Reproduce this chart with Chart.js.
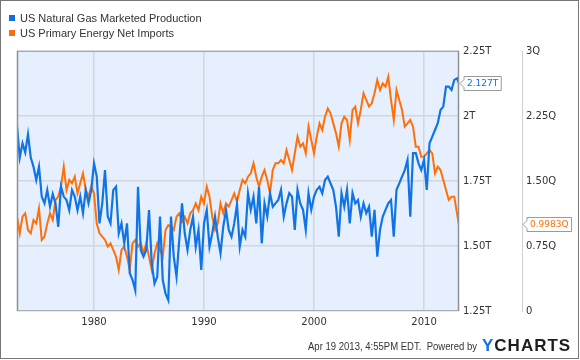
<!DOCTYPE html>
<html>
<head>
<meta charset="utf-8">
<script src="https://cdn.jsdelivr.net/npm/chart.js"></script>
<style>
body { margin: 0; background: #fff; }
#wrap { position: relative; width: 580px; height: 360px; font-family: "Liberation Sans", Arial, sans-serif; }
#frame { position: absolute; left: 0; top: 0; width: 579px; height: 359px; box-sizing: border-box; border: 1px solid #777; pointer-events: none; }
canvas { position: absolute; left: 0; top: 0; }
.leg { position: absolute; left: 20px; font-size: 11px; line-height: 15px; color: #333; white-space: nowrap; }
.sw { position: absolute; left: 9px; width: 6px; height: 6px; }
#stamp { position: absolute; left: 308px; top: 339px; font-size: 11px; line-height: 15px; color: #333; white-space: nowrap; transform-origin: 0 0; }
#logo { position: absolute; left: 482px; top: 337px; font-size: 17px; line-height: 17px; font-weight: bold; letter-spacing: 1px; color: #1d1d1d; white-space: nowrap; transform-origin: 0 0; }
#logo span { color: #1570e3; }
</style>
</head>
<body>
<div id="wrap">
	<canvas id="cnvs" width="580" height="360"></canvas>
	<div class="sw" style="top:15px;background:#0f6fe0"></div>
	<div class="leg" style="top:11px">US Natural Gas Marketed Production</div>
	<div class="sw" style="top:30px;background:#ff6a10"></div>
	<div class="leg" style="top:26px">US Primary Energy Net Imports</div>
	<div id="stamp">Apr 19 2013, 4:55PM EDT.&nbsp; Powered by</div>
	<div id="logo"><span>Y</span>CHARTS</div>
	<div id="frame"></div>
</div>
<script>
// quarterly readings, Jan 1973 .. Jan 2013, plus the last month shown
var quarters = [];
for (var i = 0; i < 161; i++) quarters.push(1973 + i / 4);
quarters.push(2013.17);

// US Natural Gas Marketed Production (trillion cu ft)
var gasProduction = [
	1.96, 1.84, 1.895, 1.86,
	1.93, 1.84, 1.805, 1.754,
	1.805, 1.69, 1.664, 1.715,
	1.651, 1.70, 1.664, 1.574,
	1.728, 1.69, 1.677, 1.638,
	1.715, 1.69, 1.638, 1.69,
	1.626, 1.715, 1.664, 1.715,
	1.818, 1.767, 1.587, 1.664,
	1.792, 1.613, 1.587, 1.715,
	1.728, 1.549, 1.587, 1.51,
	1.587, 1.395, 1.37, 1.33,
	1.728, 1.485, 1.459, 1.485,
	1.638, 1.433, 1.356, 1.382,
	1.613, 1.369, 1.318, 1.292,
	1.613, 1.459, 1.382, 1.523,
	1.664, 1.549, 1.485, 1.562,
	1.613, 1.497, 1.562, 1.408,
	1.587, 1.638, 1.497, 1.549,
	1.613, 1.536, 1.472, 1.574,
	1.638, 1.562, 1.536, 1.587,
	1.66, 1.498, 1.562, 1.536,
	1.703, 1.639, 1.69, 1.587,
	1.728, 1.51, 1.664, 1.613,
	1.703, 1.651, 1.664, 1.677,
	1.716, 1.613, 1.664, 1.703,
	1.69, 1.562, 1.716, 1.664,
	1.639, 1.562, 1.703, 1.639,
	1.69, 1.716, 1.728, 1.703,
	1.754, 1.767, 1.741, 1.716,
	1.651, 1.536, 1.703, 1.651,
	1.716, 1.587, 1.703, 1.664,
	1.677, 1.613, 1.664, 1.626,
	1.651, 1.536, 1.639, 1.459,
	1.562, 1.613, 1.639, 1.664,
	1.677, 1.536, 1.716, 1.741,
	1.767, 1.792, 1.831, 1.613,
	1.857, 1.857, 1.818, 1.792,
	1.831, 1.716, 1.895, 1.921,
	1.946, 1.972, 2.023, 2.036,
	2.113, 2.113, 2.10, 2.139,
	2.145, 2.127
];

// US Primary Energy Net Imports (quadrillion Btu)
var netImports = [
	1.088, 0.896, 1.088, 1.127,
	0.935, 0.896, 1.05, 1.01,
	1.185, 0.82, 0.858, 1.01,
	1.127, 1.05, 1.28, 1.32,
	1.435, 1.665, 1.396, 1.512,
	1.473, 1.55, 1.358, 1.473,
	1.588, 1.396, 1.32, 1.435,
	1.358, 1.01, 0.896, 0.858,
	0.82, 0.742, 0.78, 0.704,
	0.627, 0.473, 0.704, 0.742,
	0.627, 0.473, 0.78, 0.82,
	0.742, 0.78, 0.665, 0.78,
	0.627, 0.473, 0.665, 0.78,
	0.704, 0.627, 0.935, 0.99,
	0.973, 0.935, 1.088, 1.127,
	1.03, 1.088, 1.01, 1.127,
	1.165, 1.242, 1.165, 1.319,
	1.242, 1.435, 1.319, 1.088,
	0.935, 1.01, 1.242, 1.127,
	1.242, 1.204, 1.28, 1.358,
	1.26, 1.396, 1.512, 1.473,
	1.55, 1.588, 1.704, 1.55,
	1.435, 1.55, 1.627, 1.512,
	1.358, 1.627, 1.704, 1.704,
	1.742, 1.704, 1.858, 1.742,
	1.627, 1.819, 2.012, 1.896,
	1.935, 1.819, 2.127, 1.973,
	1.819, 2.012, 2.165, 2.088,
	2.242, 2.338, 2.281, 2.165,
	2.05, 1.896, 2.165, 2.242,
	2.204, 1.973, 2.319, 2.358,
	2.165, 2.319, 2.512, 2.435,
	2.358, 2.396, 2.512, 2.665,
	2.55, 2.627, 2.588, 2.704,
	2.435, 2.204, 2.55, 2.435,
	2.319, 2.127, 2.165, 2.204,
	2.127, 1.896, 1.896, 1.781,
	1.781, 1.819, 1.858, 1.819,
	1.588, 1.665, 1.627, 1.512,
	1.396, 1.281, 1.319, 1.319,
	1.127, 0.9983
];

var yearTicks = [1980, 1990, 2000, 2010];
var gasTicks = [1.25, 1.5, 1.75, 2, 2.25];
var importTicks = [0, 0.75, 1.5, 2.25, 3];

var BLUE = '#1174e6';
var ORANGE = '#ff700a';
var TICK_FONT = { family: 'DejaVu Sans', size: 10 };

function points(xs, ys)
{
	var rtn = [];
	ys.forEach(function(y, i) { rtn.push({ x: xs[i], y: y }); });
	return rtn;
}

function fmt(v, unit)
{
	if (v == 0) return '0';
	return (Number.isInteger(v) ? String(v) : v.toFixed(2)) + unit;
}

var plotBg = {
	id: 'plotBg',
	beforeDraw: function(chart) {
		var a = chart.chartArea, ctx = chart.ctx;
		ctx.save();
		ctx.fillStyle = '#e5effd';
		ctx.fillRect(a.left, a.top, a.right - a.left, a.bottom - a.top);
		ctx.restore();
	},
	afterDatasetsDraw: function(chart) {
		var a = chart.chartArea, ctx = chart.ctx;
		ctx.save();
		ctx.strokeStyle = '#a9abae';
		ctx.lineWidth = 1;
		ctx.strokeRect(a.left + 0.5, a.top + 0.5, a.right - a.left - 1, a.bottom - a.top - 1);
		ctx.strokeStyle = '#8e9094';
		ctx.lineWidth = 1.5;
		ctx.beginPath();
		ctx.moveTo(a.left + 0.5, a.top); ctx.lineTo(a.left + 0.5, a.bottom);
		ctx.moveTo(a.right - 0.5, a.top); ctx.lineTo(a.right - 0.5, a.bottom);
		ctx.stroke();
		ctx.restore();
	}
};

// last-value flags on the two right axes
var flags = {
	id: 'flags',
	afterDraw: function(chart) {
		var ctx = chart.ctx;
		var tips = [chart.chartArea.right, chart.scales.y2.left];
		var units = ['T', 'Q'];
		chart.data.datasets.forEach(function(ds, i) {
			var meta = chart.getDatasetMeta(i);
			var pt = meta.data[meta.data.length - 1];
			var text = ds.data[ds.data.length - 1].y + units[i];
			ctx.save();
			ctx.font = '9px "DejaVu Sans"';
			var w = ctx.measureText(text).width + 6;
			var tx = tips[i] + 1, bx = tips[i] + 5, cy = Math.round(pt.y) + 0.5;
			var top = cy - 7, bot = cy + 7;
			ctx.beginPath();
			ctx.moveTo(tx, cy);
			ctx.lineTo(bx, cy - 4);
			ctx.lineTo(bx, top);
			ctx.lineTo(bx + w, top);
			ctx.lineTo(bx + w, bot);
			ctx.lineTo(bx, bot);
			ctx.lineTo(bx, cy + 4);
			ctx.closePath();
			ctx.fillStyle = '#fff';
			ctx.fill();
			ctx.strokeStyle = '#9a9a9a';
			ctx.lineWidth = 1;
			ctx.stroke();
			ctx.fillStyle = ds.borderColor;
			ctx.textBaseline = 'middle';
			ctx.fillText(text, bx + 3, cy + 0.5);
			ctx.restore();
		});
	}
};

var chart = new Chart(document.getElementById('cnvs').getContext('2d'), {
	type: 'line',
	data: {
		datasets: [
			{
				label: 'US Natural Gas Marketed Production',
				data: points(quarters, gasProduction),
				borderColor: BLUE,
				borderWidth: 2.2,
				pointRadius: 0,
				tension: 0,
				yAxisID: 'y'
			},
			{
				label: 'US Primary Energy Net Imports',
				data: points(quarters, netImports),
				borderColor: ORANGE,
				borderWidth: 2,
				pointRadius: 0,
				tension: 0,
				yAxisID: 'y2'
			}
		]
	},
	options: {
		responsive: false,
		animation: false,
		devicePixelRatio: 1,
		layout: { padding: { left: 17, top: 51, right: 0, bottom: 29 } },
		plugins: { legend: { display: false }, tooltip: { enabled: false } },
		scales: {
			x: {
				type: 'linear',
				min: 1973,
				max: 2013.18,
				afterBuildTicks: function(s) { s.ticks = yearTicks.map(function(v) { return { value: v }; }); },
				afterFit: function(s) { s.height = 20; },
				grid: { color: '#d3d6db', lineWidth: 1.5, drawTicks: false },
				border: { display: false },
				ticks: { font: TICK_FONT, color: '#333', padding: 5, maxRotation: 0, callback: function(v) { return String(v); } }
			},
			y: {
				position: 'right',
				weight: 0,
				min: 1.25,
				max: 2.25,
				afterBuildTicks: function(s) { s.ticks = gasTicks.map(function(v) { return { value: v }; }); },
				afterFit: function(s) { s.width = 63; },
				grid: { color: '#d3d6db', lineWidth: 1.5, drawTicks: false },
				border: { display: false },
				ticks: { font: TICK_FONT, color: '#333', padding: 4, callback: function(v) { return fmt(v, 'T'); } }
			},
			y2: {
				position: 'right',
				weight: 1,
				min: 0,
				max: 3,
				afterBuildTicks: function(s) { s.ticks = importTicks.map(function(v) { return { value: v }; }); },
				afterFit: function(s) { s.width = 58; },
				grid: { display: false, drawTicks: false },
				border: { display: true, color: '#cfcfcf', width: 1 },
				ticks: { font: TICK_FONT, color: '#333', padding: 4, callback: function(v) { return fmt(v, 'Q'); } }
			}
		}
	},
	plugins: [plotBg, flags]
});

var stamp = document.getElementById('stamp');
stamp.style.transform = 'scaleX(' + (169 / stamp.offsetWidth) + ')';
var logo = document.getElementById('logo');
logo.style.transform = 'scaleX(' + (89 / logo.offsetWidth) + ')';
</script>
</body>
</html>
